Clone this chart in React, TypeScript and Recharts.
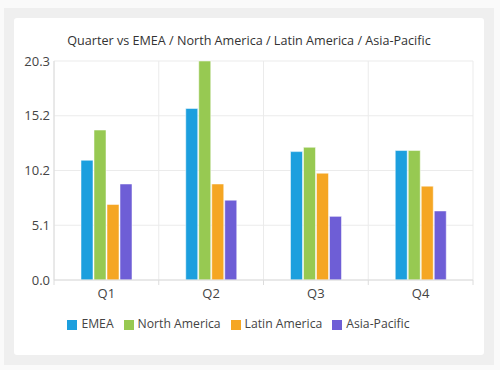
import React from 'react';
import { BarChart, Bar, XAxis, YAxis, CartesianGrid, Legend } from 'recharts';

const quarters = ['Q1', 'Q2', 'Q3', 'Q4'];
const emea = [11.1, 15.9, 11.9, 12.0];
const northAmerica = [13.9, 20.3, 12.3, 12.0];
const latinAmerica = [7.0, 8.9, 9.9, 8.7];
const asiaPacific = [8.9, 7.4, 5.9, 6.4];
const yTicks = [0, 5.075, 10.15, 15.225, 20.3];

const series = [
  { key: 'EMEA', values: emea, color: '#1c9fde' },
  { key: 'North America', values: northAmerica, color: '#97c952' },
  { key: 'Latin America', values: latinAmerica, color: '#f5a623' },
  { key: 'Asia-Pacific', values: asiaPacific, color: '#6e5ed6' },
];

const data = quarters.map((q, i) => {
  const row: Record<string, string | number> = { quarter: q };
  series.forEach(s => {
    row[s.key] = s.values[i];
  });
  return row;
});

const font = '"Open Sans", "Noto Sans", sans-serif';

const QuarterTick = (props: any) => {
  const { x, y, payload, index, width } = props;
  const half = width / (quarters.length * 2);
  return (
    <g>
      <line x1={x - half} x2={x - half} y1={y - 8} y2={y - 3} stroke="#dcdcdc" />
      {index === quarters.length - 1 && (
        <line x1={x + half} x2={x + half} y1={y - 8} y2={y - 3} stroke="#dcdcdc" />
      )}
      <text x={x} y={y + 10} textAnchor="middle" fill="#444" fontSize={13} fontFamily={font}>
        {payload.value}
      </text>
    </g>
  );
};

export default function App() {
  return (
    <div style={{ position: 'fixed', inset: 0, background: '#fafafa' }}>
      <div
        style={{
          position: 'absolute',
          left: 4,
          top: 8,
          width: 490,
          height: 357,
          background: '#efefef',
        }}
      >
        <div
          style={{
            position: 'absolute',
            left: 10,
            top: 10,
            width: 470,
            height: 337,
            background: '#fff',
            borderRadius: 3,
          }}
        >
          <div
            style={{
              position: 'absolute',
              top: 14,
              width: '100%',
              textAlign: 'center',
              fontFamily: font,
              fontSize: 12.6,
              color: '#333',
            }}
          >
            Quarter vs EMEA / North America / Latin America / Asia-Pacific
          </div>
          <BarChart
            width={470}
            height={337}
            data={data}
            margin={{ top: 43, right: 11, left: 0, bottom: 28 }}
            barGap={1}
            barSize={12}
          >
            <CartesianGrid
              stroke="#ebebeb"
              verticalCoordinatesGenerator={({ offset }: any) =>
                quarters.map((_, i) => offset.left + (i * offset.width) / quarters.length)
                  .concat(offset.left + offset.width)
              }
            />
            <XAxis
              dataKey="quarter"
              axisLine={{ stroke: '#dcdcdc' }}
              tickLine={false}
              tick={<QuarterTick />}
              height={30}
            />
            <YAxis
              domain={[0, 20.3]}
              ticks={yTicks}
              tickFormatter={(v: number) => v.toFixed(1)}
              width={40}
              axisLine={{ stroke: '#dcdcdc' }}
              tickLine={false}
              tickSize={2}
              tickMargin={2}
              tick={{ fill: '#444', fontSize: 13, fontFamily: font }}
            />
            <Legend
              iconType="square"
              iconSize={10}
              itemSorter={(item: any) => series.findIndex(s => s.key === item.value)}
              wrapperStyle={{ fontFamily: font, fontSize: 12.2, color: '#444', bottom: 23 }}
              formatter={(value: string) => <span style={{ color: '#444' }}>{value}</span>}
            />
            {series.map(s => (
              <Bar
                key={s.key}
                dataKey={s.key}
                fill={s.color}
                stroke="#ffffff"
                strokeOpacity={0.5}
                isAnimationActive={false}
              />
            ))}
          </BarChart>
        </div>
      </div>
    </div>
  );
}
